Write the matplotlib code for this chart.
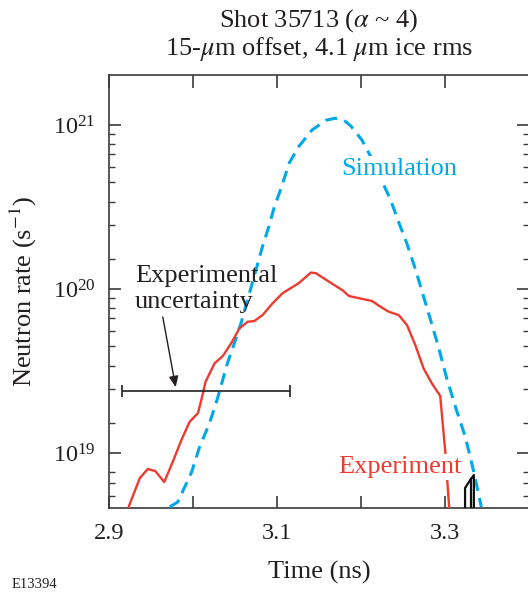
import matplotlib
matplotlib.use("Agg")
import matplotlib.pyplot as plt
from matplotlib.ticker import FixedLocator, NullFormatter, FixedFormatter, LogFormatterSciNotation

# ---------------- data ----------------
sim_t = [2.9719, 2.9814, 2.998, 3.0075, 3.0193, 3.0289, 3.0407, 3.049, 3.0573, 3.0668,
         3.0822, 3.0905, 3.0964, 3.1047, 3.1142, 3.1261, 3.1415, 3.1581, 3.1688, 3.1795,
         3.1878, 3.2008, 3.215, 3.2269, 3.2352, 3.2447, 3.2542, 3.2649, 3.272, 3.2803,
         3.2921, 3.3016, 3.3135, 3.3242, 3.3337, 3.3432]
sim_rate = [4.69e18, 5.02e18, 7.66e18, 1.09e19, 1.52e19, 2.16e19, 3.54e19, 4.69e19, 6.30e19, 9.4e19,
            1.80e20, 2.45e20, 3.16e20, 4.13e20, 5.86e20, 7.45e20, 9.33e20, 1.07e21, 1.10e21, 1.07e21,
            9.86e20, 8.11e20, 5.94e20, 4.31e20, 3.49e20, 2.56e20, 1.91e20, 1.31e20, 9.86e19, 7.14e19,
            4.43e19, 2.90e19, 1.83e19, 1.25e19, 7.87e18, 4.69e18]

exp_t = [2.9224, 2.9363, 2.9458, 2.9547, 2.9654, 2.9754, 2.9858, 2.9956, 3.0055, 3.0095,
         3.0146, 3.0253, 3.0351, 3.0451, 3.0549, 3.0648, 3.0727, 3.0826, 3.0944, 3.1063,
         3.1261, 3.14, 3.1459, 3.1558, 3.1676, 3.1775, 3.1854, 3.2131, 3.2230, 3.2329,
         3.2447, 3.2546, 3.2645, 3.2744, 3.2842, 3.2942, 3.3001, 3.3049]
exp_rate = [4.62e18, 7.04e18, 7.99e18, 7.76e18, 6.65e18, 8.81e18, 1.20e19, 1.55e19, 1.75e19, 2.10e19,
            2.72e19, 3.52e19, 3.90e19, 4.67e19, 5.75e19, 6.32e19, 6.38e19, 6.94e19, 8.18e19, 9.42e19,
            1.09e20, 1.26e20, 1.25e20, 1.16e20, 1.06e20, 9.86e19, 9.07e19, 8.45e19, 7.80e19, 7.27e19,
            6.94e19, 6.03e19, 4.56e19, 3.28e19, 2.66e19, 2.23e19, 1.04e19, 4.62e18]

# small black outlined trace near 3.33 ns
blk_t = [3.3238, 3.3238, 3.3307, 3.3343, 3.3343]
blk_rate = [4.0e18, 6.12e18, 6.94e18, 7.34e18, 4.0e18]
blk2_t = [3.3307, 3.3307]
blk2_rate = [6.94e18, 4.0e18]

# experimental uncertainty bar
unc_center = 3.015
unc_halfwidth = 0.10
unc_rate = 2.39e19

xticks_major = [2.9, 3.1, 3.3]
xtick_labels = ["2.9", "3.1", "3.3"]
xticks_minor = [3.0, 3.2, 3.4]
yticks_major = [1e19, 1e20, 1e21]
minor_mults = [1.52, 2.46, 3.4, 4.49, 5.53, 6.66, 7.65, 8.79]
yticks_minor = [m * 10 ** e for e in (19, 20) for m in minor_mults] + [5.5e18, 6.6e18, 7.7e18]

# ---------------- style ----------------
plt.rcParams['font.family'] = ['Liberation Serif', 'DejaVu Serif']
plt.rcParams['mathtext.fontset'] = 'stix'

BLUE = '#00A9E6'
RED = '#EE3B2F'
TXT = '#231f20'
AXC = '#3a3a3a'

W, H = 528, 595
fig = plt.figure(figsize=(W / 100, H / 100), dpi=100)
ax = fig.add_axes([109.4 / W, (H - 508) / H, (529 - 109.4) / W, (508 - 75) / H])

ax.set_yscale('log')
ax.set_xlim(2.9, 3.4)
ax.set_ylim(4.62e18, 2.02e21)

ax.plot(sim_t, sim_rate, color=BLUE, lw=2.2, linestyle=(0, (3.9, 2.4)), zorder=3)
ax.plot(exp_t, exp_rate, color=RED, lw=1.7, zorder=3)
ax.plot(blk_t, blk_rate, color='#111111', lw=1.6, zorder=3)
ax.plot(blk2_t, blk2_rate, color='#111111', lw=1.6, zorder=3)

ax.errorbar([unc_center], [unc_rate], xerr=[unc_halfwidth], fmt='none', ecolor=TXT,
            elinewidth=1.2, capsize=4, capthick=1.2, zorder=4)
ax.annotate('', xy=(2.979, 2.52e19), xytext=(2.9636, 6.75e19),
            arrowprops=dict(arrowstyle='-|>,head_length=0.65,head_width=0.28', color=TXT,
                            lw=1.0, shrinkA=0, shrinkB=0, mutation_scale=10), zorder=5)

ax.text(2.9303, 1.108e20, 'Experimental', fontsize=19, color=TXT, ha='left', va='baseline', zorder=6)
ax.text(2.9303, 7.66e19, 'uncertainty', fontsize=19, color=TXT, ha='left', va='baseline', zorder=6)
ax.text(3.1759, 4.96e20, 'Simulation', fontsize=19, color=BLUE, ha='left', va='baseline', zorder=6,
        bbox=dict(facecolor='white', edgecolor='none', pad=1.5))
ax.text(3.1727, 7.59e18, 'Experiment', fontsize=19, color=RED, ha='left', va='baseline', zorder=6,
        bbox=dict(facecolor='white', edgecolor='none', pad=1.5))

# ticks
ax.xaxis.set_major_locator(FixedLocator(xticks_major))
ax.xaxis.set_major_formatter(FixedFormatter(xtick_labels))
ax.xaxis.set_minor_locator(FixedLocator(xticks_minor))
ax.xaxis.set_minor_formatter(NullFormatter())
ax.yaxis.set_major_locator(FixedLocator(yticks_major))
ax.yaxis.set_major_formatter(LogFormatterSciNotation())
ax.yaxis.set_minor_locator(FixedLocator(yticks_minor))
ax.yaxis.set_minor_formatter(NullFormatter())

ax.tick_params(axis='x', which='both', direction='in', length=9, width=1.2, color=AXC,
               top=True, bottom=True, labelsize=17.5, labelcolor=TXT, pad=11)
ax.tick_params(axis='y', which='major', direction='in', length=8.6, width=1.2, color=AXC,
               left=True, right=True, labelsize=17.5, labelcolor=TXT, pad=10)
ax.tick_params(axis='y', which='minor', direction='in', length=4.3, width=1.0, color=AXC,
               left=True, right=True)

for s in ['left', 'top', 'bottom']:
    ax.spines[s].set_color(AXC)
    ax.spines[s].set_linewidth(1.2)
ax.spines['right'].set_visible(False)

# labels / titles
cx = 319 / W
fig.text(cx, 1 - 27 / H, r'Shot 35713 ($\alpha$ ~ 4)', fontsize=19, color=TXT, ha='center', va='baseline')
fig.text(cx, 1 - 55 / H, r'15-$\mu$m offset, 4.1 $\mu$m ice rms', fontsize=19, color=TXT,
         ha='center', va='baseline')
fig.text(cx, 1 - 579 / H, 'Time (ns)', fontsize=19, color=TXT, ha='center', va='baseline')
fig.text(23 / W, 1 - 291 / H, r'Neutron rate (s$^{-1}$)', fontsize=19, color=TXT,
         ha='center', va='center', rotation=90)
fig.text(12 / W, 1 - 588 / H, 'E13394', fontsize=10.5, color=TXT, ha='left', va='baseline')

fig.savefig('out.png', dpi=100)
